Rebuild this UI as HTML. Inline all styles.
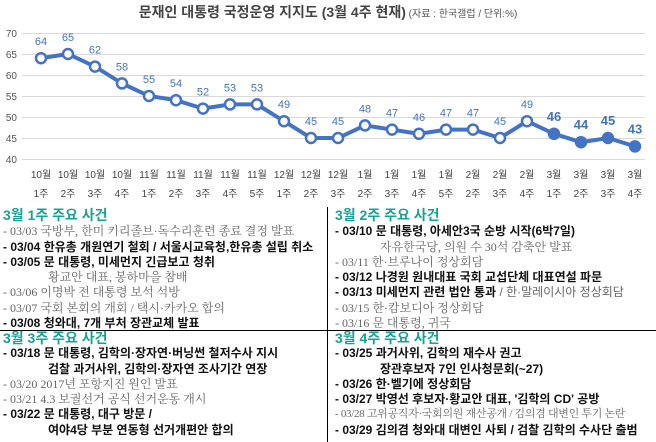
<!DOCTYPE html>
<html><head><meta charset="utf-8"><style>
body{margin:0;width:656px;height:442px;background:#fff;overflow:hidden;position:relative;font-family:"Liberation Sans","Noto Sans CJK KR",sans-serif}
.t{position:absolute;white-space:nowrap;font-size:12px;line-height:15px;font-family:"Liberation Serif","Noto Serif CJK SC","Noto Sans CJK KR",serif}
.g{color:#666}
.b{color:#111;font-weight:bold;font-family:"Liberation Sans","Noto Sans CJK KR",sans-serif}
.h{color:#16a394;font-weight:bold;font-size:14px;font-family:"Liberation Sans","Noto Sans CJK KR",sans-serif}
</style></head><body>
<svg width="656" height="205" style="position:absolute;left:0;top:0" font-family="Liberation Sans, Noto Sans CJK KR, sans-serif">
<text x="328" y="17" text-anchor="middle" font-size="14" font-weight="bold" fill="#444">문재인 대통령 국정운영 지지도 (3월 4주 현재)<tspan font-size="10" font-weight="normal" fill="#555"> (자료 : 한국갤럽 / 단위:%)</tspan></text>
<g stroke="#d9d9d9" stroke-width="1">
<line x1="22" x2="645" y1="33.5" y2="33.5"/><line x1="22" x2="645" y1="54.5" y2="54.5"/><line x1="22" x2="645" y1="75.5" y2="75.5"/><line x1="22" x2="645" y1="96.5" y2="96.5"/><line x1="22" x2="645" y1="117.5" y2="117.5"/><line x1="22" x2="645" y1="138.5" y2="138.5"/><line x1="22" x2="645" y1="159.5" y2="159.5"/>
</g>
<g font-size="10" fill="#555" text-anchor="end">
<text x="17" y="37">70</text><text x="17" y="58">65</text><text x="17" y="79">60</text><text x="17" y="100">55</text><text x="17" y="121">50</text><text x="17" y="142">45</text><text x="17" y="163">40</text>
</g>
<g id="c"></g>
</svg>
<script>
var v=[64,65,62,58,55,54,52,53,53,49,45,45,48,47,46,47,47,45,49,46,44,45,43];
var m=["10월","10월","10월","10월","11월","11월","11월","11월","11월","12월","12월","12월","1월","1월","1월","1월","2월","2월","2월","3월","3월","3월","3월"];
var w=["1주","2주","3주","4주","1주","2주","3주","4주","5주","1주","2주","3주","2주","3주","4주","5주","2주","3주","4주","1주","2주","3주","4주"];
var s="",p="";
for(var i=0;i<23;i++){var x=41+i*27,y=33+(70-v[i])*4.2;p+=(i?"L":"M")+x+" "+y;
var big=i>=19;
s+='<text x="'+x+'" y="'+(y-13)+'" text-anchor="middle" font-size="'+(big?13:11)+'" '+(big?'font-weight="bold"':'')+' fill="#4472c4">'+v[i]+'</text>';
s+='<circle cx="'+x+'" cy="'+y+'" r="5" fill="'+(big?'#4472c4':'#fff')+'" stroke="#4472c4" stroke-width="2.5"/>';
s+='<text x="'+x+'" y="178" text-anchor="middle" font-size="10" fill="#444">'+m[i]+'</text><text x="'+x+'" y="197" text-anchor="middle" font-size="10" fill="#444">'+w[i]+'</text>';}
document.getElementById("c").innerHTML='<path d="'+p+'" fill="none" stroke="#4472c4" stroke-width="4"/>'+s;
</script>
<div style="position:absolute;left:327px;top:207px;width:1px;height:235px;background:#000"></div>
<div style="position:absolute;left:0;top:330px;width:656px;height:1px;background:#000"></div>
<div class="t h" style="left:3px;top:208px">3월 1주 주요 사건</div>
<div class="t g" style="left:3px;top:224px">- 03/03 국방부, 한미 키리졸브·독수리훈련 종료 결정 발표</div>
<div class="t b" style="left:3px;top:240px">- 03/04 한유총 개원연기 철회 / 서울시교육청,한유총 설립 취소</div>
<div class="t b" style="left:3px;top:255px">- 03/05 문 대통령, 미세먼지 긴급보고 청취</div>
<div class="t g" style="left:48px;top:270px">황교안 대표, 봉하마을 참배</div>
<div class="t g" style="left:3px;top:285px">- 03/06 이명박 전 대통령 보석 석방</div>
<div class="t g" style="left:3px;top:301px">- 03/07 국회 본회의 개회 / 택시·카카오 합의</div>
<div class="t b" style="left:3px;top:316px">- 03/08 청와대, 7개 부처 장관교체 발표</div>
<div class="t h" style="left:3px;top:331px">3월 3주 주요 사건</div>
<div class="t b" style="left:3px;top:346px">- 03/18 문 대통령, 김학의·장자연·버닝썬 철저수사 지시</div>
<div class="t b" style="left:48px;top:362px">검찰 과거사위, 김학의·장자연 조사기간 연장</div>
<div class="t g" style="left:3px;top:377px">- 03/20 2017년 포항지진 원인 발표</div>
<div class="t g" style="left:3px;top:392px">- 03/21 4.3 보궐선거 공식 선거운동 개시</div>
<div class="t b" style="left:3px;top:407px">- 03/22 문 대통령, 대구 방문 /</div>
<div class="t b" style="left:48px;top:423px">여야4당 부분 연동형 선거개편안 합의</div>
<div class="t h" style="left:335px;top:208px">3월 2주 주요 사건</div>
<div class="t b" style="left:335px;top:224px">- 03/10 문 대통령, 아세안3국 순방 시작(6박7일)</div>
<div class="t g" style="left:380px;top:240px">자유한국당, 의원 수 30석 감축안 발표</div>
<div class="t g" style="left:335px;top:255px">- 03/11 한·브루나이 정상회담</div>
<div class="t b" style="left:335px;top:270px">- 03/12 나경원 원내대표 국회 교섭단체 대표연설 파문</div>
<div class="t b" style="left:335px;top:285px">- 03/13 미세먼지 관련 법안 통과 <span class="g" style="font-weight:normal">/ 한·말레이시아 정상회담</span></div>
<div class="t g" style="left:335px;top:301px">- 03/15 한·캄보디아 정상회담</div>
<div class="t g" style="left:335px;top:316px">- 03/16 문 대통령, 귀국</div>
<div class="t h" style="left:335px;top:331px">3월 4주 주요 사건</div>
<div class="t b" style="left:335px;top:346px">- 03/25 과거사위, 김학의 재수사 권고</div>
<div class="t b" style="left:380px;top:362px">장관후보자 7인 인사청문회(~27)</div>
<div class="t b" style="left:335px;top:377px">- 03/26 한·벨기에 정상회담</div>
<div class="t b" style="left:335px;top:392px">- 03/27 박영선 후보자·황교안 대표, '김학의 CD' 공방</div>
<div class="t g" style="left:335px;top:407px;font-size:11px;letter-spacing:-0.3px">- 03/28 고위공직자·국회의원 재산공개 / 김의겸 대변인 투기 논란</div>
<div class="t b" style="left:335px;top:423px">- 03/29 김의겸 청와대 대변인 사퇴 / 검찰 김학의 수사단 출범</div>
</body></html>
